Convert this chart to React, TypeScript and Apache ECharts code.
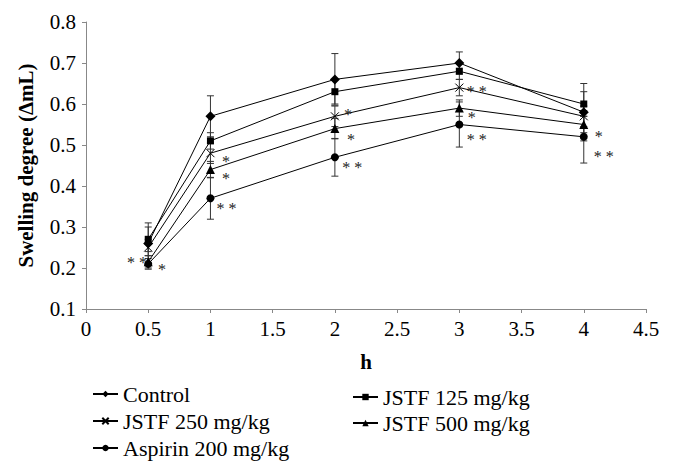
import React, { useEffect, useRef } from "react";
import * as echarts from "echarts";

const hours = [0.5, 1, 2, 3, 4];
const seriesNames = ["Control", "JSTF 125 mg/kg", "JSTF 250 mg/kg", "JSTF 500 mg/kg", "Aspirin 200 mg/kg"];
const control = [0.26, 0.57, 0.66, 0.70, 0.58];
const jstf125 = [0.27, 0.51, 0.63, 0.68, 0.60];
const jstf250 = [0.25, 0.48, 0.57, 0.64, 0.57];
const jstf500 = [0.215, 0.44, 0.54, 0.59, 0.55];
const aspirin = [0.21, 0.37, 0.47, 0.55, 0.52];

const controlSd = [0.05, 0.05, 0.063, 0.027, 0.07];
const jstf125Sd = [0.03, 0.02, 0.03, 0.02, 0.03];
const jstf250Sd = [0.02, 0.025, 0.025, 0.02, 0.025];
const jstf500Sd = [0.015, 0.02, 0.025, 0.02, 0.02];
const aspirinSd = [0.013, 0.051, 0.046, 0.055, 0.064];

const annoX = [0.41, 0.61, 1.125, 1.125, 1.13, 2.106, 2.13, 2.14, 3.14, 3.1, 3.14, 4.12, 4.16];
const annoY = [0.224, 0.207, 0.47, 0.428, 0.354, 0.583, 0.524, 0.456, 0.641, 0.578, 0.524, 0.53, 0.482];
const annoText = ["* *", "*", "*", "*", "* *", "*", "*", "* *", "* *", "*", "* *", "*", "* *"];

const xTicks = { min: 0, max: 4.5, interval: 0.5 };
const yTicks = { min: 0.1, max: 0.8, interval: 0.1 };

const FONT = "Liberation Serif, Times New Roman, serif";
const crossPath = "path://M0,0L10,10M10,0L0,10";

export default function App() {
  const ref = useRef<HTMLDivElement>(null);
  useEffect(() => {
    if (!ref.current) return;
    const chart = echarts.init(ref.current, null, { renderer: "svg" });
    const values = [control, jstf125, jstf250, jstf500, aspirin];
    const sds = [controlSd, jstf125Sd, jstf250Sd, jstf500Sd, aspirinSd];
    const symbols = ["diamond", "rect", crossPath, "triangle", "circle"];
    const sizes = [10, 7, 8, 9, 8];

    const lineSeries = values.map((vals, i) => ({
      type: "line",
      name: seriesNames[i],
      data: hours.map((h, j) => [h, vals[j]]),
      symbol: symbols[i],
      symbolSize: sizes[i],
      showSymbol: true,
      lineStyle: { color: "#000", width: 1 },
      itemStyle:
        i === 2
          ? { color: "#000", borderColor: "#000", borderWidth: 1 }
          : { color: "#000" },
      z: 3,
    }));

    const errData: number[][] = [];
    values.forEach((vals, i) => {
      hours.forEach((h, j) => {
        errData.push([h, vals[j] - sds[i][j], vals[j] + sds[i][j]]);
      });
    });

    const errSeries = {
      type: "custom",
      name: "err",
      data: errData,
      encode: { x: 0, y: [1, 2] },
      z: 2,
      renderItem: (params: any, api: any) => {
        const x = api.value(0);
        const lo = api.coord([x, api.value(1)]);
        const hi = api.coord([x, api.value(2)]);
        const w = 3.5;
        const st = { stroke: "#333", lineWidth: 1 };
        return {
          type: "group",
          children: [
            { type: "line", shape: { x1: lo[0], y1: lo[1], x2: hi[0], y2: hi[1] }, style: st },
            { type: "line", shape: { x1: lo[0] - w, y1: lo[1], x2: lo[0] + w, y2: lo[1] }, style: st },
            { type: "line", shape: { x1: hi[0] - w, y1: hi[1], x2: hi[0] + w, y2: hi[1] }, style: st },
          ],
        };
      },
    };

    const annoSeries = {
      type: "custom",
      name: "anno",
      data: annoX.map((x, i) => [x, annoY[i]]),
      encode: { x: 0, y: 1 },
      z: 4,
      renderItem: (params: any, api: any) => {
        const p = api.coord([api.value(0), api.value(1)]);
        return {
          type: "text",
          x: p[0],
          y: p[1] + 4,
          style: {
            text: annoText[params.dataIndex],
            fontFamily: FONT,
            fontSize: 16,
            lineHeight: 10,
            fill: "#222",
            align: "center",
            verticalAlign: "middle",
          },
        };
      },
    };

    const legendText = { fontFamily: FONT, fontSize: 22, lineHeight: 22, color: "#000" };

    chart.setOption({
      animation: false,
      backgroundColor: "#fff",
      textStyle: { fontFamily: FONT },
      grid: { left: 86, right: 28, top: 22, bottom: 161 },
      xAxis: {
        type: "value",
        min: xTicks.min,
        max: xTicks.max,
        interval: xTicks.interval,
        name: "h",
        nameLocation: "middle",
        nameGap: 42,
        nameTextStyle: { fontFamily: FONT, fontSize: 21, fontWeight: "bold", color: "#000" },
        axisLine: { lineStyle: { color: "#888", width: 1 } },
        axisTick: { show: true, length: 4, lineStyle: { color: "#888" } },
        axisLabel: { fontFamily: FONT, fontSize: 21, color: "#000", margin: 9 },
        splitLine: { show: false },
      },
      yAxis: {
        type: "value",
        min: yTicks.min,
        max: yTicks.max,
        interval: yTicks.interval,
        name: "Swelling degree (\u0394mL)",
        nameLocation: "middle",
        nameGap: 50,
        nameTextStyle: { fontFamily: FONT, fontSize: 21, fontWeight: "bold", color: "#000" },
        axisLine: { show: true, lineStyle: { color: "#888", width: 1 } },
        axisTick: { show: true, length: 4, lineStyle: { color: "#888" } },
        axisLabel: { fontFamily: FONT, fontSize: 21, color: "#000", margin: 10, formatter: (v: number) => v.toFixed(1) },
        splitLine: { show: false },
      },
      legend: [
        {
          left: 92,
          top: 383,
          padding: 0,
          orient: "vertical",
          itemGap: 5,
          itemWidth: 25,
          itemHeight: 8,
          data: ["Control", "JSTF 250 mg/kg", "Aspirin 200 mg/kg"],
          textStyle: legendText,
        },
        {
          left: 352,
          top: 386,
          padding: 0,
          orient: "vertical",
          itemGap: 4,
          itemWidth: 25,
          itemHeight: 8,
          data: ["JSTF 125 mg/kg", "JSTF 500 mg/kg"],
          textStyle: legendText,
        },
      ],
      series: [errSeries, ...lineSeries, annoSeries],
    });
    return () => chart.dispose();
  }, []);
  return <div ref={ref} style={{ position: "fixed", left: 0, top: 0, width: 674, height: 470 }} />;
}
